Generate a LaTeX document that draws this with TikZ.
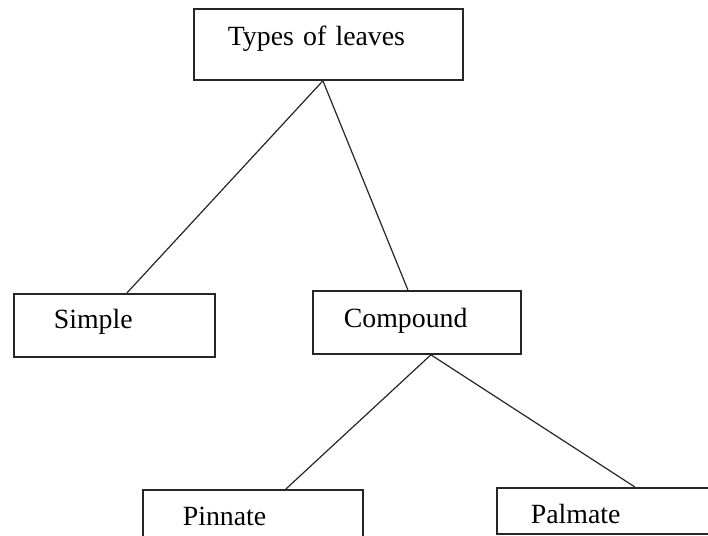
\documentclass[tikz,border=0pt]{standalone}
\usepackage{fontspec}
\setmainfont{Liberation Serif}

\tikzset{
	leafbox/.style={draw=black!85, line width=1.8pt, anchor=north west, inner ysep=0pt, align=left,
		font=\fontsize{27.8}{33}\selectfont},
	branch/.style={draw=black!85, line width=1.2pt}
}

\begin{document}
\begin{tikzpicture}[x=1pt, y=-1pt]
	\useasboundingbox (0, 0) rectangle (708, 535);
	\fill[white] (0, 0) rectangle (708, 535);

	\node[leafbox, inner xsep=34pt, text width=201pt, text height=37pt, text depth=34pt] (types) at (193, 8) {Types of leaves};
	\node[leafbox, inner xsep=40pt, text width=121pt, text height=35pt, text depth=28pt] (simple) at (13, 293) {Simple};
	\node[leafbox, inner xsep=31pt, text width=146pt, text height=37pt, text depth=26pt] (compound) at (312, 290) {Compound};
	\node[leafbox, inner xsep=40pt, text width=140pt, text height=36pt, text depth=22pt] (pinnate) at (142, 489) {Pinnate};
	\node[leafbox, inner xsep=34pt, text width=260pt, text height=36pt, text depth=10pt] (palmate) at (496, 487) {Palmate};

	\draw[branch] ([xshift=-5.5pt]types.south) -- ([xshift=12.5pt]simple.north);
	\draw[branch] ([xshift=-5.5pt]types.south) -- ([xshift=-9pt]compound.north);
	\draw[branch] ([xshift=14pt]compound.south) -- ([xshift=33pt]pinnate.north);
	\draw[branch] ([xshift=14pt]compound.south) -- ([xshift=-26pt]palmate.north);
\end{tikzpicture}
\end{document}
